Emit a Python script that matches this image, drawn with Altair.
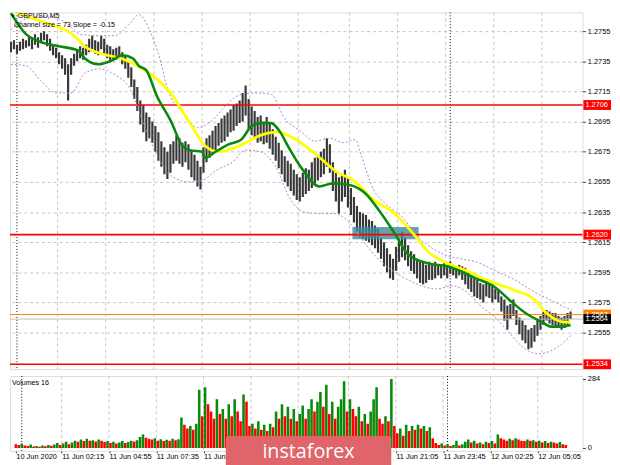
import altair as alt
import pandas as pd

# ---------------- data ----------------
bar_t = list(range(0, 374, 2))
highs = [1.2748, 1.2749, 1.2746, 1.2748, 1.2750, 1.2749, 1.2752, 1.2750, 1.2753, 1.2751,
         1.2754, 1.2755, 1.2753, 1.2750, 1.2746, 1.2744, 1.2741, 1.2739, 1.2737, 1.2733,
         1.2737, 1.2740, 1.2743, 1.2745, 1.2744, 1.2746, 1.2750, 1.2752, 1.2749, 1.2748,
         1.2752, 1.2750, 1.2746, 1.2745, 1.2743, 1.2744, 1.2745, 1.2741, 1.2739, 1.2735,
         1.2731, 1.2723, 1.2718, 1.2709, 1.2706, 1.2701, 1.2698, 1.2695, 1.2692, 1.2688,
         1.2682, 1.2678, 1.2675, 1.2680, 1.2682, 1.2686, 1.2684, 1.2681, 1.2682, 1.2680,
         1.2676, 1.2673, 1.2669, 1.2665, 1.2678, 1.2684, 1.2686, 1.2689, 1.2692, 1.2694,
         1.2697, 1.2699, 1.2701, 1.2703, 1.2706, 1.2707, 1.2709, 1.2714, 1.2719, 1.2710,
         1.2705, 1.2702, 1.2698, 1.2699, 1.2695, 1.2698, 1.2694, 1.2690, 1.2685, 1.2681,
         1.2676, 1.2672, 1.2669, 1.2667, 1.2663, 1.2660, 1.2658, 1.2661, 1.2664, 1.2663,
         1.2668, 1.2671, 1.2673, 1.2675, 1.2677, 1.2684, 1.2680, 1.2668, 1.2661, 1.2658,
         1.2660, 1.2663, 1.2658, 1.2651, 1.2645, 1.2639, 1.2635, 1.2634, 1.2633, 1.2630,
         1.2629, 1.2626, 1.2624, 1.2618, 1.2615, 1.2611, 1.2607, 1.2604, 1.2612, 1.2617,
         1.2622, 1.2618, 1.2613, 1.2609, 1.2607, 1.2604, 1.2603, 1.2602, 1.2600, 1.2602,
         1.2600, 1.2602, 1.2600, 1.2600, 1.2602, 1.2600, 1.2602, 1.2600, 1.2599, 1.2600,
         1.2599, 1.2598, 1.2595, 1.2593, 1.2591, 1.2590, 1.2588, 1.2587, 1.2590, 1.2588,
         1.2586, 1.2584, 1.2583, 1.2579, 1.2577, 1.2573, 1.2574, 1.2577, 1.2570, 1.2565,
         1.2563, 1.2560, 1.2557, 1.2558, 1.2560, 1.2564, 1.2566, 1.2569, 1.2570, 1.2569,
         1.2568, 1.2568, 1.2566, 1.2565, 1.2566, 1.2568, 1.2569]
lows = [1.2741, 1.2743, 1.2740, 1.2742, 1.2743, 1.2744, 1.2745, 1.2743, 1.2746, 1.2744,
        1.2748, 1.2749, 1.2745, 1.2742, 1.2739, 1.2737, 1.2733, 1.2730, 1.2726, 1.2709,
        1.2726, 1.2732, 1.2735, 1.2737, 1.2736, 1.2739, 1.2741, 1.2743, 1.2740, 1.2739,
        1.2743, 1.2740, 1.2737, 1.2735, 1.2735, 1.2736, 1.2737, 1.2733, 1.2730, 1.2724,
        1.2718, 1.2710, 1.2702, 1.2693, 1.2688, 1.2682, 1.2684, 1.2681, 1.2675, 1.2669,
        1.2665, 1.2660, 1.2657, 1.2661, 1.2667, 1.2669, 1.2667, 1.2665, 1.2668, 1.2663,
        1.2658, 1.2656, 1.2652, 1.2650, 1.2661, 1.2668, 1.2671, 1.2673, 1.2676, 1.2679,
        1.2681, 1.2682, 1.2685, 1.2688, 1.2689, 1.2692, 1.2694, 1.2695, 1.2699, 1.2690,
        1.2686, 1.2684, 1.2681, 1.2682, 1.2680, 1.2681, 1.2677, 1.2673, 1.2669, 1.2664,
        1.2660, 1.2655, 1.2652, 1.2649, 1.2646, 1.2643, 1.2642, 1.2645, 1.2647, 1.2649,
        1.2651, 1.2654, 1.2656, 1.2658, 1.2660, 1.2665, 1.2661, 1.2649, 1.2642, 1.2634,
        1.2642, 1.2645, 1.2638, 1.2633, 1.2628, 1.2622, 1.2618, 1.2617, 1.2616, 1.2615,
        1.2613, 1.2611, 1.2608, 1.2604, 1.2599, 1.2595, 1.2591, 1.2590, 1.2596, 1.2602,
        1.2605, 1.2603, 1.2599, 1.2596, 1.2594, 1.2591, 1.2588, 1.2587, 1.2588, 1.2590,
        1.2590, 1.2591, 1.2593, 1.2591, 1.2593, 1.2591, 1.2594, 1.2593, 1.2591, 1.2593,
        1.2590, 1.2587, 1.2584, 1.2582, 1.2579, 1.2578, 1.2577, 1.2575, 1.2579, 1.2578,
        1.2575, 1.2577, 1.2575, 1.2569, 1.2563, 1.2557, 1.2564, 1.2566, 1.2560, 1.2554,
        1.2550, 1.2548, 1.2544, 1.2545, 1.2549, 1.2553, 1.2557, 1.2560, 1.2563, 1.2561,
        1.2560, 1.2558, 1.2558, 1.2557, 1.2558, 1.2560, 1.2564]
volumes = [15, 12, 18, 10, 8, 14, 6,
           8, 5, 10, 7, 12, 9,
           14, 20, 12, 18, 25, 15, 22,
           30, 25, 35, 28, 38, 30,
           32, 26, 35, 30, 24, 28, 20,
           25, 18, 22, 28, 20, 24, 30, 26,
           32, 45, 55, 42, 38,
           35, 40, 30, 36, 28,
           34, 30, 38, 32, 36,
           125,
           95, 80, 90, 75, 100,
           240, 130, 250, 180, 150,
           120, 200, 140, 160, 120,
           180, 130, 200, 150, 110,
           220, 190, 90, 100, 80,
           110, 75, 95, 70, 100,
           85, 150, 120, 180, 130,
           170, 120, 160, 110, 140,
           175, 120, 160, 200, 150,
           190, 230, 170, 260, 140,
           190, 120, 170, 200, 275,
           150, 200, 160, 130, 170,
           110, 140, 100, 150, 200,
           250, 120, 100, 130, 110,
           284, 90, 60, 80, 50,
           95, 70, 90, 75, 95,
           80, 90, 70, 85, 40,
           20, 12, 18, 10, 15,
           8, 12, 30, 10, 15,
           25, 35, 22, 30, 18,
           22, 15, 25, 20, 28,
           18, 55, 40, 35, 30,
           38, 32, 40, 35, 30,
           28, 35, 30, 32, 25,
           30, 22, 28, 20, 25,
           22, 18, 24, 15, 12]

ma_slow_t = [0, 10, 19, 30, 36, 43, 49, 60, 73, 84, 95, 106, 119, 129, 138, 147, 158, 166,
             177, 188, 203, 216, 229, 240, 255, 268, 277, 290, 303, 316, 335, 348, 356, 368, 372]
ma_slow_p = [1.2769, 1.2765, 1.2762, 1.2758, 1.2756, 1.2751, 1.2745, 1.2740, 1.2737, 1.2732,
             1.2725, 1.2714, 1.2694, 1.2679, 1.2675, 1.2677, 1.2682, 1.2686, 1.2688, 1.2684,
             1.2673, 1.2662, 1.2655, 1.2644, 1.2634, 1.2620, 1.2609, 1.2601, 1.2596, 1.2590,
             1.2583, 1.2577, 1.2568, 1.2562, 1.2562]
ma_fast_t = [0, 10, 19, 32, 45, 49, 58, 66, 74, 81, 85, 90, 97, 106, 114, 119, 127, 129, 136,
             145, 153, 160, 166, 173, 179, 184, 194, 205, 214, 225, 236, 244, 255, 264, 277,
             290, 309, 322, 331, 342, 353, 359, 366, 372]
ma_fast_p = [1.2767, 1.2753, 1.2748, 1.2745, 1.2742, 1.2737, 1.2733, 1.2735, 1.2739, 1.2737,
             1.2732, 1.2729, 1.2712, 1.2696, 1.2679, 1.2676, 1.2675, 1.2671, 1.2675, 1.2680,
             1.2683, 1.2692, 1.2694, 1.2694, 1.2688, 1.2679, 1.2663, 1.2652, 1.2654, 1.2653,
             1.2647, 1.2637, 1.2621, 1.2607, 1.2601, 1.2599, 1.2591, 1.2585, 1.2577, 1.2568,
             1.2562, 1.2559, 1.2559, 1.2560]
band_up_t = [0, 10, 23, 36, 46, 56, 69, 79, 85, 92, 98, 105, 114, 124, 134, 144, 153, 163, 173,
             182, 192, 202, 212, 221, 229, 232, 241, 251, 260, 270, 280, 290, 299, 309, 322,
             335, 348, 358, 368, 373]
band_up_p = [1.2756, 1.2763, 1.2765, 1.2761, 1.2753, 1.2752, 1.2752, 1.2760, 1.2766, 1.2756,
             1.2740, 1.2714, 1.2701, 1.2691, 1.2696, 1.2707, 1.2713, 1.2714, 1.2713, 1.2697,
             1.2689, 1.2682, 1.2684, 1.2681, 1.2683, 1.2675, 1.2650, 1.2639, 1.2632, 1.2619,
             1.2611, 1.2606, 1.2604, 1.2602, 1.2596, 1.2590, 1.2582, 1.2577, 1.2572, 1.2570]
band_lo_t = [0, 10, 20, 30, 40, 49, 59, 69, 79, 88, 98, 108, 118, 127, 137, 147, 156, 166, 176,
             186, 195, 205, 215, 225, 234, 244, 254, 264, 273, 283, 293, 303, 312, 322, 332,
             342, 351, 361, 368, 373]
band_lo_p = [1.2733, 1.2732, 1.2722, 1.2714, 1.2714, 1.2727, 1.2730, 1.2726, 1.2717, 1.2694,
             1.2671, 1.2658, 1.2655, 1.2656, 1.2663, 1.2668, 1.2676, 1.2675, 1.2665, 1.2643,
             1.2635, 1.2634, 1.2634, 1.2628, 1.2616, 1.2604, 1.2596, 1.2590, 1.2586, 1.2584,
             1.2586, 1.2582, 1.2573, 1.2565, 1.2554, 1.2544, 1.2541, 1.2544, 1.2549, 1.2554]

red_levels = [1.2706, 1.2620, 1.2534]
order_level = [1.2567]
bid_level = [1.2564]
zone_t = [227, 271]
zone_p = [1.2617, 1.2625]

price_ticks = [1.2555, 1.2575, 1.2595, 1.2615, 1.2635, 1.2655, 1.2675, 1.2695, 1.2715, 1.2735, 1.2755]
time_ticks = [0, 31, 63, 95, 127, 159, 191, 225, 257, 289, 321, 353]
label_ticks = [0, 31, 63, 95, 127, 257, 289, 321, 353]
label_texts = ["10 Jun 2020", "11 Jun 02:15", "11 Jun 04:55", "11 Jun 07:35", "11 Jun 10:15",
               "11 Jun 21:05", "11 Jun 23:45", "12 Jun 02:25", "12 Jun 05:05"]
day_separators = [4, 292]
vol_ticks = [0, 284]

# ---------------- layout constants ----------------
W, H1, H2 = 581, 362, 76
FONT = "Liberation Sans"
xdom = [-0.65, 379.9]
pdom = [1.253082, 1.276742]
vdom = [-12.2, 296.2]

xs = alt.Scale(domain=xdom, nice=False, zero=False)
ps = alt.Scale(domain=pdom, nice=False, zero=False)
vs = alt.Scale(domain=vdom, nice=False, zero=False)

candles = pd.DataFrame({"t": bar_t, "high": highs, "low": lows})
vol_df = pd.DataFrame({"t": bar_t[:len(volumes)], "vol": volumes})
vol_df["dir"] = ["up" if i > 0 and v > volumes[i - 1] else "down" for i, v in enumerate(volumes)]

grid_df = pd.DataFrame({"t": time_ticks[1:]})
sep_df = pd.DataFrame({"t": day_separators})

p_axis = alt.Axis(values=price_ticks, format=".4f", orient="right", grid=True, gridColor="#c4c4c4",
                  gridDash=[3, 3], domain=False, ticks=True, tickSize=3, tickColor="#404040",
                  labelPadding=2, labelFontSize=7.5, labelFont=FONT, labelColor="#000000",
                  title=None, zindex=0)
x_none = alt.X("t:Q", scale=xs, axis=None)

# ---------------- price panel ----------------
vgrid = alt.Chart(grid_df).mark_rule(color="#c4c4c4", strokeDash=[3, 3], strokeWidth=1).encode(x=x_none)
seps = alt.Chart(sep_df).mark_rule(color="#000000", strokeDash=[1, 2], strokeWidth=1).encode(x=x_none)

cndl = alt.Chart(candles).mark_rule(color="#383838", strokeWidth=2.2, clip=True).encode(
    x=x_none, y=alt.Y("low:Q", scale=ps, axis=p_axis), y2="high:Q")

zone = alt.Chart(pd.DataFrame({"t0": [zone_t[0]], "t1": [zone_t[1]],
                               "p0": [zone_p[0]], "p1": [zone_p[1]]})).mark_rect(
    color="#3b8e9c", opacity=0.8).encode(
    x=alt.X("t0:Q", scale=xs, axis=None), x2="t1:Q",
    y=alt.Y("p0:Q", scale=ps, axis=p_axis), y2="p1:Q")

lvl_red = alt.Chart(pd.DataFrame({"p": red_levels})).mark_rule(color="#ff0000", strokeWidth=1.6).encode(
    y=alt.Y("p:Q", scale=ps, axis=p_axis))
lvl_ord = alt.Chart(pd.DataFrame({"p": order_level})).mark_rule(color="#ff8000", strokeWidth=1).encode(
    y=alt.Y("p:Q", scale=ps, axis=p_axis))
lvl_bid = alt.Chart(pd.DataFrame({"p": bid_level})).mark_rule(color="#bdbdbd", strokeWidth=1).encode(
    y=alt.Y("p:Q", scale=ps, axis=p_axis))


def line(ts, ps_, color, width, dash=None):
    df = pd.DataFrame({"t": ts, "p": ps_})
    kw = dict(color=color, strokeWidth=width, clip=True, interpolate="monotone")
    if dash:
        kw["strokeDash"] = dash
    return alt.Chart(df).mark_line(**kw).encode(
        x=x_none, y=alt.Y("p:Q", scale=ps, axis=p_axis), order="t:Q")


band_u = line(band_up_t, band_up_p, "#b47fd6", 1, [2, 2])
band_l = line(band_lo_t, band_lo_p, "#b47fd6", 1, [2, 2])
ma_y = line(ma_slow_t, ma_slow_p, "#ffff00", 2.8)
ma_g = line(ma_fast_t, ma_fast_p, "#0a8a0a", 2.6)

box_df = pd.DataFrame({
    "p": red_levels + order_level + bid_level,
    "txt": [f"{v:.4f}" for v in red_levels + order_level + bid_level],
    "c": ["#ff0000", "#ff0000", "#ff0000", "#ff8000", "#000000"],
})
boxes = alt.Chart(box_df).mark_tick(orient="horizontal", size=28, thickness=10, opacity=1).encode(
    x=alt.value(W + 15), y=alt.Y("p:Q", scale=ps, axis=p_axis),
    color=alt.Color("c:N", scale=None))
box_txt = alt.Chart(box_df).mark_text(align="left", baseline="middle", fontSize=7.5, font=FONT,
                                      color="#ffffff").encode(
    x=alt.value(W + 3), y=alt.Y("p:Q", scale=ps, axis=p_axis), text="txt:N")

hdr_df = pd.DataFrame({"txt": ["GBPUSD,M5", "Channel size = 73 Slope = -0.15"],
                       "x": [8, 4], "y": [4, 13]})
hdr = alt.Chart(hdr_df).mark_text(align="left", baseline="middle", fontSize=7.2, font=FONT,
                                  color="#000000").encode(
    x=alt.X("x:Q", scale=None), y=alt.Y("y:Q", scale=None), text="txt:N")
tri = alt.Chart(pd.DataFrame({"a": [1]})).mark_point(shape="triangle-down", filled=True, size=14,
                                                      color="#000000").encode(
    x=alt.value(3), y=alt.value(4))

top = alt.layer(vgrid, seps, cndl, zone, lvl_red, lvl_ord, lvl_bid, band_u, band_l, ma_y, ma_g,
                boxes, box_txt, hdr, tri).properties(width=W, height=H1)

# ---------------- volume panel ----------------
label_expr = ""
for tv, lab in zip(label_ticks, label_texts):
    label_expr += f"datum.value == {tv} ? '{lab}' : "
label_expr += "''"
x_axis = alt.Axis(values=time_ticks, labelExpr=label_expr, labelAlign="left", labelFontSize=7.5,
                  labelFont=FONT, labelColor="#000000", tickSize=2, tickColor="#404040",
                  domain=False, grid=False, labelPadding=0, labelOverlap=False, labelFlush=False,
                  labelBound=False, title=None, zindex=0)
v_axis = alt.Axis(values=vol_ticks, orient="right", grid=False, domain=False, tickSize=3,
                  tickColor="#404040", labelPadding=2, labelFontSize=7.5, labelFont=FONT,
                  labelColor="#000000", title=None, zindex=0)
x_vol = alt.X("t:Q", scale=xs, axis=x_axis)

vgrid2 = alt.Chart(grid_df).mark_rule(color="#c4c4c4", strokeDash=[3, 3], strokeWidth=1).encode(x=x_vol)
seps2 = alt.Chart(sep_df).mark_rule(color="#000000", strokeDash=[1, 2], strokeWidth=1).encode(x=x_vol)
vbars = alt.Chart(vol_df).mark_bar(width=2.6, clip=True).encode(
    x=x_vol, y=alt.Y("vol:Q", scale=vs, axis=v_axis), y2=alt.datum(0),
    color=alt.Color("dir:N", scale=alt.Scale(domain=["up", "down"], range=["#0a8a0a", "#ff0000"]),
                    legend=None))
vol_title = alt.Chart(pd.DataFrame({"txt": ["Volumes 16"]})).mark_text(
    align="left", baseline="middle", fontSize=7.2, font=FONT, color="#000000").encode(
    x=alt.value(2), y=alt.value(7), text="txt:N")
logo = alt.Chart(pd.DataFrame({"a": [1]})).mark_rect(color="#e0656a", cornerRadius=3).encode(
    x=alt.value(219), x2=alt.value(387), y=alt.value(61), y2=alt.value(96))
logo_txt = alt.Chart(pd.DataFrame({"txt": ["instaforex"]})).mark_text(
    align="center", baseline="middle", fontSize=20, font="Open Sans", color="#ffffff").encode(
    x=alt.value(303), y=alt.value(77), text="txt:N")

bottom = alt.layer(vgrid2, seps2, vbars, vol_title, logo, logo_txt).properties(width=W, height=H2)

chart = alt.vconcat(top, bottom, spacing=4).properties(
    padding={"left": 0, "top": 0, "right": 0, "bottom": 0}
).configure_view(stroke="#6b6b6b", strokeWidth=1).configure(background="#ffffff")

chart.save("out.html", embed_options={"renderer": "svg", "actions": False})
